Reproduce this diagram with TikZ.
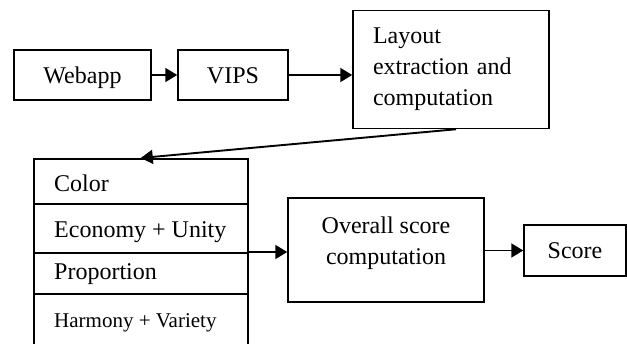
\documentclass[tikz,border=0pt]{standalone}
\usepackage{fontspec}
\setmainfont{Liberation Serif}
\usetikzlibrary{arrows.meta}
\begin{document}
\begin{tikzpicture}[x=1pt,y=-1pt,
 box/.style={draw, line width=1.5pt, inner sep=0pt},
 row/.style={draw, line width=1.5pt, anchor=north west, minimum width=214pt, inner sep=0pt},
 lbl/.style={anchor=base west, inner sep=0pt, font=\fontsize{24}{31}\selectfont},
 txt/.style={font=\fontsize{24}{31}\selectfont},
 one/.style={text height=16pt, text depth=0pt},
 arr/.style={-{Triangle[length=12pt,width=14pt]}, line width=1.9pt}]
\clip (0,0) rectangle (627,343);
\node[box, one, minimum width=137pt, minimum height=50pt, txt] (webapp) at (82.5,75) {Webapp};
\node[box, one, minimum width=110pt, minimum height=50pt, txt] (vips) at (233,75) {VIPS};
\node[box, minimum width=196pt, minimum height=118pt, txt, text width=156pt, align=left, inner xsep=20pt] (layout) at (451,69.5) {Layout\\extraction and\\computation};
\node[row, minimum height=45pt] (color) at (33,158) {};
\node[row, minimum height=49pt] (econ) at (33,203) {};
\node[row, minimum height=41pt] (prop) at (33,252) {};
\node[row, minimum height=70pt] (harm) at (33,293) {};
\node[lbl] (colortxt) at (54,191) {Color};
\node[lbl] (econtxt) at (54,237) {Economy + Unity};
\node[lbl] (proptxt) at (54,279) {Proportion};
\node[lbl, font=\fontsize{21}{25}\selectfont] (harmtxt) at (54,327) {Harmony + Variety};
\node[box, minimum width=196pt, minimum height=104pt] (overall) at (386,250) {};
\node[txt, align=center] (overalltxt) at (386,243) {Overall score\\computation};
\node[box, one, minimum width=102pt, minimum height=51pt, txt] (score) at (575,250.5) {Score};
\draw[arr] (webapp) -- (vips);
\draw[arr] (vips.east) -- (vips.east -| layout.west);
\draw[arr] ([xshift=5pt]layout.south) -- (color.north);
\draw[arr] (prop.north east) -- (prop.north east -| overall.west);
\draw[arr] (overall.east |- score.west) -- (score.west);
\end{tikzpicture}
\end{document}
